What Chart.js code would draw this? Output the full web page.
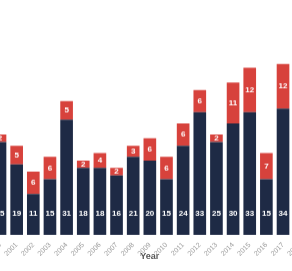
<!DOCTYPE html>
<html><head><meta charset="utf-8">
<script src="https://cdn.jsdelivr.net/npm/chart.js@4"></script>
<style>
html,body{margin:0;padding:0;background:#fff;overflow:hidden;width:292px;height:271px;}
#wrap{position:relative;width:292px;height:271px;overflow:hidden;}
canvas{position:absolute;left:0;top:0;}
</style></head>
<body><div id="wrap"><canvas id="c" width="340" height="271"></canvas></div>
<script>
const categories = ["2000","2001","2002","2003","2004","2005","2006","2007","2008","2009","2010","2011","2012","2013","2014","2015","2016","2017","2018"];
const darkValues = [25,19,11,15,31,18,18,16,21,20,15,24,33,25,30,33,15,34,null];
const redValues  = [2,5,6,6,5,2,4,2,3,6,6,6,6,2,11,12,7,12,null];
const DARK = '#1e2a45', RED = '#d7423c';

const labelPlugin = {
  id: 'segLabels',
  afterDatasetsDraw(chart) {
    const ctx = chart.ctx;
    ctx.save();
    ctx.fillStyle = '#ffffff';
    ctx.font = 'bold 8px "Liberation Sans", Arial, sans-serif';
    ctx.textAlign = 'center';
    ctx.textBaseline = 'middle';
    const base = chart.scales.y.getPixelForValue(0);
    chart.getDatasetMeta(0).data.forEach((bar, i) => {
      if (darkValues[i] == null) return;
      ctx.fillText(String(darkValues[i]), bar.x, base - 21);
    });
    chart.getDatasetMeta(1).data.forEach((bar, i) => {
      if (redValues[i] == null) return;
      ctx.fillText(String(redValues[i]), bar.x, (bar.y + bar.base) / 2);
    });
    ctx.restore();
  }
};

const canvas = document.getElementById('c');
const chart = new Chart(canvas, {
  type: 'bar',
  data: {
    labels: categories,
    datasets: [
      {data: darkValues, backgroundColor: DARK, barPercentage: 0.76, categoryPercentage: 1.0},
      {data: redValues, backgroundColor: RED, barPercentage: 0.76, categoryPercentage: 1.0}
    ]
  },
  options: {
    responsive: false,
    animation: false,
    devicePixelRatio: 1,
    layout: {padding: {left: 0, right: 0, top: 0, bottom: 8}},
    plugins: {legend: {display: false}, tooltip: {enabled: false}},
    scales: {
      x: {
        stacked: true,
        grid: {display: false},
        border: {display: false},
        ticks: {autoSkip: false, maxRotation: 45, minRotation: 45, color: '#9a9a9a', padding: -2,
                font: {size: 7, family: '"Liberation Sans", Arial, sans-serif'}},
        title: {display: true, text: 'Year', color: '#555', padding: {top: -5, bottom: 0},
                font: {size: 9, weight: 'bold', family: '"Liberation Sans", Arial, sans-serif'}}
      },
      y: {stacked: true, display: false, min: 0, max: 60}
    }
  },
  plugins: [labelPlugin]
});

const pitch = 16.67, pxPerUnit = 3.7;
let ca = chart.chartArea;
const padL = ca.left, padR = canvas.width - ca.right;
chart.resize(Math.round(pitch * categories.length + padL + padR), 271);
ca = chart.chartArea;
chart.options.scales.y.max = (ca.bottom - ca.top) / pxPerUnit;
chart.update();
ca = chart.chartArea;
const x0 = chart.scales.x.getPixelForValue(0);
canvas.style.left = (-0.4 - x0) + 'px';
canvas.style.top = (234 - ca.bottom) + 'px';
</script></body></html>
